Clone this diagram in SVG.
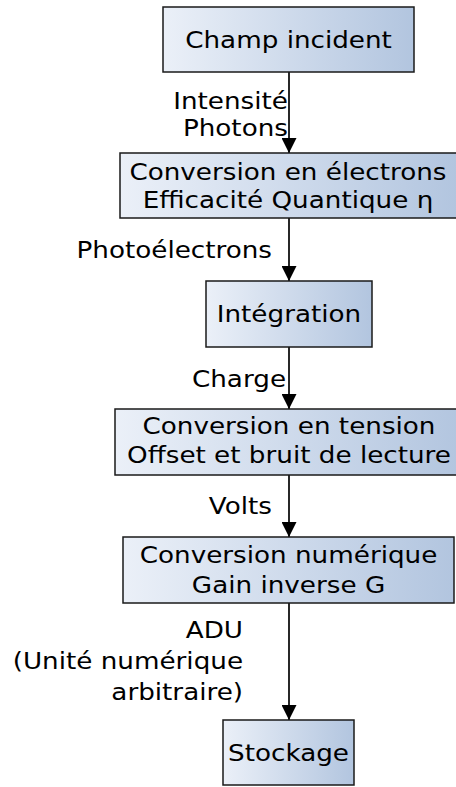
<svg xmlns="http://www.w3.org/2000/svg" width="456" height="787" viewBox="0 0 456 787">
<style>
.box{stroke:#1a1a1a;stroke-width:1.5;fill:url(#g)}
.t{font-family:"DejaVu Sans",Verdana,sans-serif;font-size:23px;fill:#000}
.c{text-anchor:middle}
.r{text-anchor:end}
.edge{stroke:#111;stroke-width:1.8;fill:none;marker-end:url(#ah)}
</style>
<defs>
<linearGradient id="g" x1="0" y1="0" x2="1" y2="0">
<stop offset="0" stop-color="#ebf0f8"/>
<stop offset="1" stop-color="#b2c5df"/>
</linearGradient>
<marker id="ah" viewBox="0 0 15 15" markerWidth="15" markerHeight="15" refX="15" refY="7.5" orient="auto" markerUnits="userSpaceOnUse">
<path d="M0,0 L15,7.5 L0,15 z" fill="#000"/>
</marker>
</defs>
<rect width="456" height="787" fill="#fff"/>
<g id="connectors">
<line class="edge" x1="289" y1="72" x2="289" y2="153"/>
<line class="edge" x1="289" y1="218" x2="289" y2="281"/>
<line class="edge" x1="289" y1="347" x2="289" y2="409"/>
<line class="edge" x1="289" y1="475" x2="289" y2="537"/>
<line class="edge" x1="289" y1="603" x2="289" y2="720"/>
<g transform="scale(1.14,1)">
<text class="t r" x="252.6" y="109">Intensité</text>
<text class="t r" x="252.6" y="136.5">Photons</text>
<text class="t r" x="238.6" y="258">Photoélectrons</text>
<text class="t r" x="250.9" y="387">Charge</text>
<text class="t r" x="238.6" y="514">Volts</text>
<text class="t r" x="213.2" y="638">ADU</text>
<text class="t r" x="213.2" y="669">(Unité numérique</text>
<text class="t r" x="213.2" y="700">arbitraire)</text>
</g>
</g>
<g id="n1">
<rect class="box" x="163" y="7" width="251" height="65"/>
<text class="t c" transform="scale(1.14,1)" x="253.1" y="48">Champ incident</text>
</g>
<g id="n2">
<rect class="box" x="120" y="153" width="338" height="65"/>
<text class="t c" transform="scale(1.14,1)" x="252.6" y="180">Conversion en électrons</text>
<text class="t c" transform="scale(1.14,1)" x="252.6" y="208.5">Efficacité Quantique η</text>
</g>
<g id="n3">
<rect class="box" x="206" y="281" width="166" height="66"/>
<text class="t c" transform="scale(1.14,1)" x="253.5" y="322.5">Intégration</text>
</g>
<g id="n4">
<rect class="box" x="115" y="409" width="348" height="66"/>
<text class="t c" transform="scale(1.14,1)" x="253.5" y="434">Conversion en tension</text>
<text class="t c" transform="scale(1.14,1)" x="253.5" y="463">Offset et bruit de lecture</text>
</g>
<g id="n5">
<rect class="box" x="123" y="537" width="331" height="66"/>
<text class="t c" transform="scale(1.14,1)" x="253.1" y="563">Conversion numérique</text>
<text class="t c" transform="scale(1.14,1)" x="253.1" y="593">Gain inverse G</text>
</g>
<g id="n6">
<rect class="box" x="223" y="720" width="131" height="65"/>
<text class="t c" transform="scale(1.14,1)" x="253.1" y="761.5">Stockage</text>
</g>
</svg>
